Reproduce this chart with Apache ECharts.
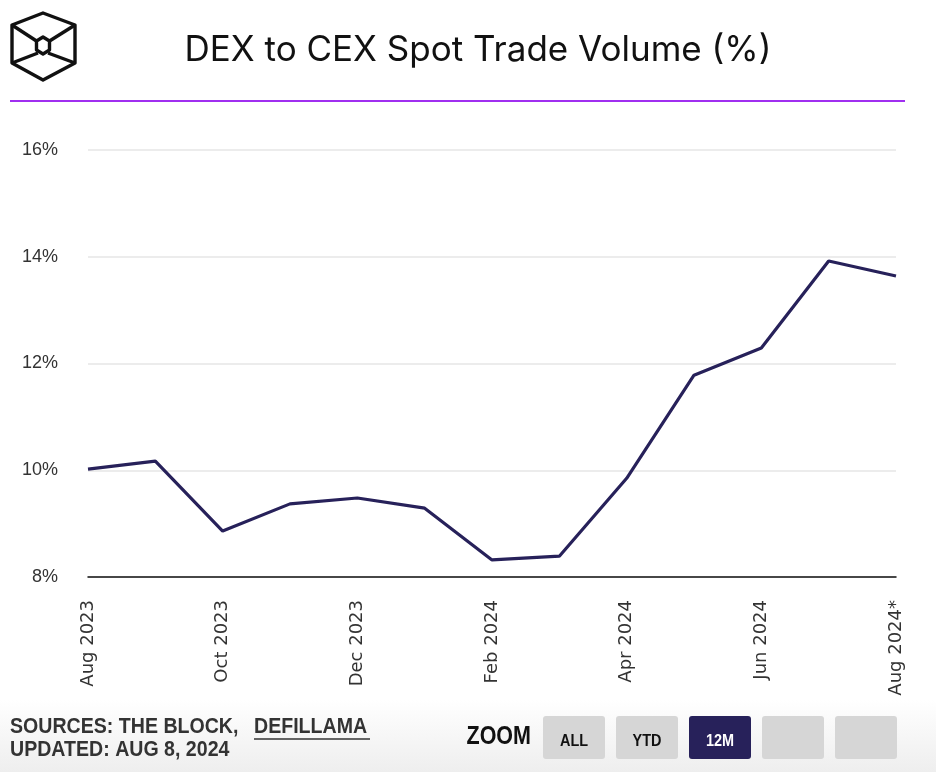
<!DOCTYPE html>
<html>
<head>
<meta charset="utf-8">
<script src="https://cdn.jsdelivr.net/npm/echarts@6/dist/echarts.min.js"></script>
<style>
html,body{margin:0;padding:0;background:#fff;}
#chart{width:936px;height:772px;}
</style>
</head>
<body>
<div id="chart"></div>
<script>
const categories = ['Aug 2023','Sep 2023','Oct 2023','Nov 2023','Dec 2023','Jan 2024','Feb 2024','Mar 2024','Apr 2024','May 2024','Jun 2024','Jul 2024','Aug 2024*'];
const dexToCex = [10.02, 10.17, 8.86, 9.37, 9.48, 9.29, 8.32, 8.39, 9.85, 11.78, 12.29, 13.92, 13.64];
const yTicks = {min: 8, max: 16, interval: 2};
const titleText = 'DEX to CEX Spot Trade Volume (%)';
const sourceText = 'SOURCES: THE BLOCK,';
const sourceLink = 'DEFILLAMA';
const updatedText = 'UPDATED: AUG 8, 2024';
const zoomButtons = ['ALL','YTD','12M','',''];

const chart = echarts.init(document.getElementById('chart'), null, {renderer:'canvas'});

const logoStyle = {stroke:'#111', lineWidth:3.4, fill:null, lineJoin:'round'};
const narrowBold = 'bold 22px "Liberation Sans", Arial, sans-serif';
const buttons = [];
const bx0 = 543, bw = 62, bgap = 11;
zoomButtons.forEach((t, i) => {
  const active = t === '12M';
  buttons.push({
    type:'rect', shape:{x:bx0 + i*(bw+bgap), y:716, width:bw, height:43, r:3},
    style:{fill: active ? '#27215a' : '#d6d6d6'}
  });
  if (t) buttons.push({
    type:'text', x:bx0 + i*(bw+bgap) + bw/2, y:741, scaleX:0.85,
    style:{text:t, fill: active ? '#fff' : '#111', font:'bold 17px "Liberation Sans", Arial, sans-serif', align:'center', verticalAlign:'middle'}
  });
});

chart.setOption({
  animation:false,
  backgroundColor:'#fff',
  grid:{left:88, right:40, top:150, bottom:195, containLabel:false},
  xAxis:{
    type:'category', data:categories, boundaryGap:false,
    axisLine:{show:true, lineStyle:{color:'#111', width:1.5}},
    axisTick:{show:false},
    axisLabel:{rotate:90, interval:1, margin:23, color:'#333', fontSize:18, fontFamily:'"DejaVu Sans", sans-serif'},
    splitLine:{show:false}
  },
  yAxis:{
    type:'value', min:yTicks.min, max:yTicks.max, interval:yTicks.interval,
    axisLine:{show:false}, axisTick:{show:false},
    axisLabel:{formatter:'{value}%', margin:30, color:'#333', fontSize:18, fontFamily:'"Liberation Sans", Arial, sans-serif'},
    splitLine:{lineStyle:{color:'#e6e6e6', width:1.5}}
  },
  series:[{
    type:'line', data:dexToCex, symbol:'none', z:5,
    lineStyle:{color:'#27215a', width:3.2}
  }],
  graphic:[
    {type:'rect', shape:{x:0, y:700, width:936, height:72}, z:-10, silent:true,
     style:{fill:new echarts.graphic.LinearGradient(0,0,0,1,[{offset:0,color:'#ffffff'},{offset:1,color:'#eeeeee'}])}},
    {type:'polygon', shape:{points:[[43,13],[75,25],[75,63],[43,80],[12,63],[12,25]]}, style:logoStyle},
    {type:'polygon', shape:{points:[[43,37],[49.5,41],[49.5,50],[43,54],[36.5,50],[36.5,41]]}, style:logoStyle},
    {type:'polyline', shape:{points:[[12,25],[36.5,41]]}, style:logoStyle},
    {type:'polyline', shape:{points:[[75,25],[49.5,41]]}, style:logoStyle},
    {type:'polyline', shape:{points:[[12,63],[38,53]]}, style:logoStyle},
    {type:'polyline', shape:{points:[[75,63],[48,53]]}, style:logoStyle},
    {type:'text', x:478, y:50, style:{text:titleText, fill:'#111', font:'35px Inter, "Liberation Sans", sans-serif', align:'center', verticalAlign:'middle'}},
    {type:'line', shape:{x1:10, y1:101, x2:905, y2:101}, style:{stroke:'#a02ff0', lineWidth:2}},
    {type:'text', x:10, y:727, scaleX:0.89, style:{text:sourceText, fill:'#333', font:narrowBold, verticalAlign:'middle'}},
    {type:'text', x:254, y:727, scaleX:0.89, style:{text:sourceLink, fill:'#333', font:narrowBold, verticalAlign:'middle'}},
    {type:'line', shape:{x1:254, y1:739, x2:370, y2:739}, style:{stroke:'#333', lineWidth:1.5}},
    {type:'text', x:10, y:750, scaleX:0.89, style:{text:updatedText, fill:'#333', font:narrowBold, verticalAlign:'middle'}},
    {type:'text', x:531, y:737, scaleX:0.86, style:{text:'ZOOM', fill:'#111', font:'bold 25px "Liberation Sans", Arial, sans-serif', align:'right', verticalAlign:'middle'}}
  ].concat(buttons)
});
</script>
</body>
</html>
